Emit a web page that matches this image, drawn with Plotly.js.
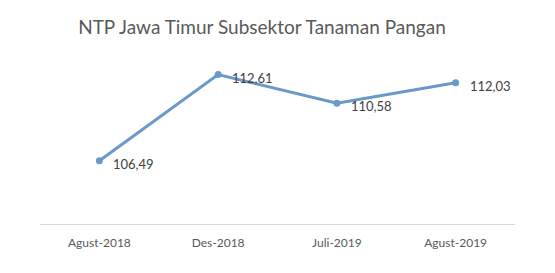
<!DOCTYPE html>
<html>
<head>
<meta charset="utf-8">
<script src="https://cdn.plot.ly/plotly-3.0.1.min.js"></script>
<style>html,body{margin:0;padding:0;background:#fff;}#chart{width:555px;height:273px;}</style>
</head>
<body>
<div id="chart"></div>
<script>
const categories = ["Agust-2018", "Des-2018", "Juli-2019", "Agust-2019"];
const ntpValues = [106.49, 112.61, 110.58, 112.03];
const labels = ntpValues.map(v => v.toFixed(2).replace('.', ','));

const trace = {
  x: categories,
  y: ntpValues,
  type: 'scatter',
  mode: 'lines+markers',
  line: {color: '#6A98CB', width: 3},
  marker: {color: '#6A98CB', size: 7},
  cliponaxis: false,
  hoverinfo: 'none'
};

const annotations = categories.map((c, i) => ({
  x: c,
  y: ntpValues[i],
  xref: 'x',
  yref: 'y',
  text: labels[i],
  showarrow: false,
  xanchor: 'left',
  yanchor: 'middle',
  xshift: 12,
  yshift: -3,
  font: {family: 'Lato, Carlito, sans-serif', size: 13, color: '#404040'}
}));

const layout = {
  width: 555,
  height: 273,
  margin: {l: 40, r: 40, t: 55, b: 49},
  paper_bgcolor: '#fff',
  plot_bgcolor: '#fff',
  showlegend: false,
  annotations: annotations,
  title: {
    text: 'NTP Jawa Timur Subsektor Tanaman Pangan',
    font: {family: 'Lato, Carlito, sans-serif', size: 19, color: '#595959'},
    x: 0.472, xanchor: 'center', y: 0.9, yanchor: 'middle'
  },
  xaxis: {
    type: 'category',
    range: [-0.5, 3.5],
    showgrid: false,
    zeroline: false,
    showline: true,
    linecolor: '#D9D9D9',
    linewidth: 1,
    ticks: '',
    ticklabelstandoff: 8,
    tickfont: {family: 'Lato, Carlito, sans-serif', size: 12, color: '#595959'}
  },
  yaxis: {
    range: [102, 114],
    showgrid: false,
    zeroline: false,
    showline: false,
    showticklabels: false,
    ticks: ''
  }
};

Plotly.newPlot('chart', [trace], layout, {displayModeBar: false, staticPlot: true});
</script>
</body>
</html>
